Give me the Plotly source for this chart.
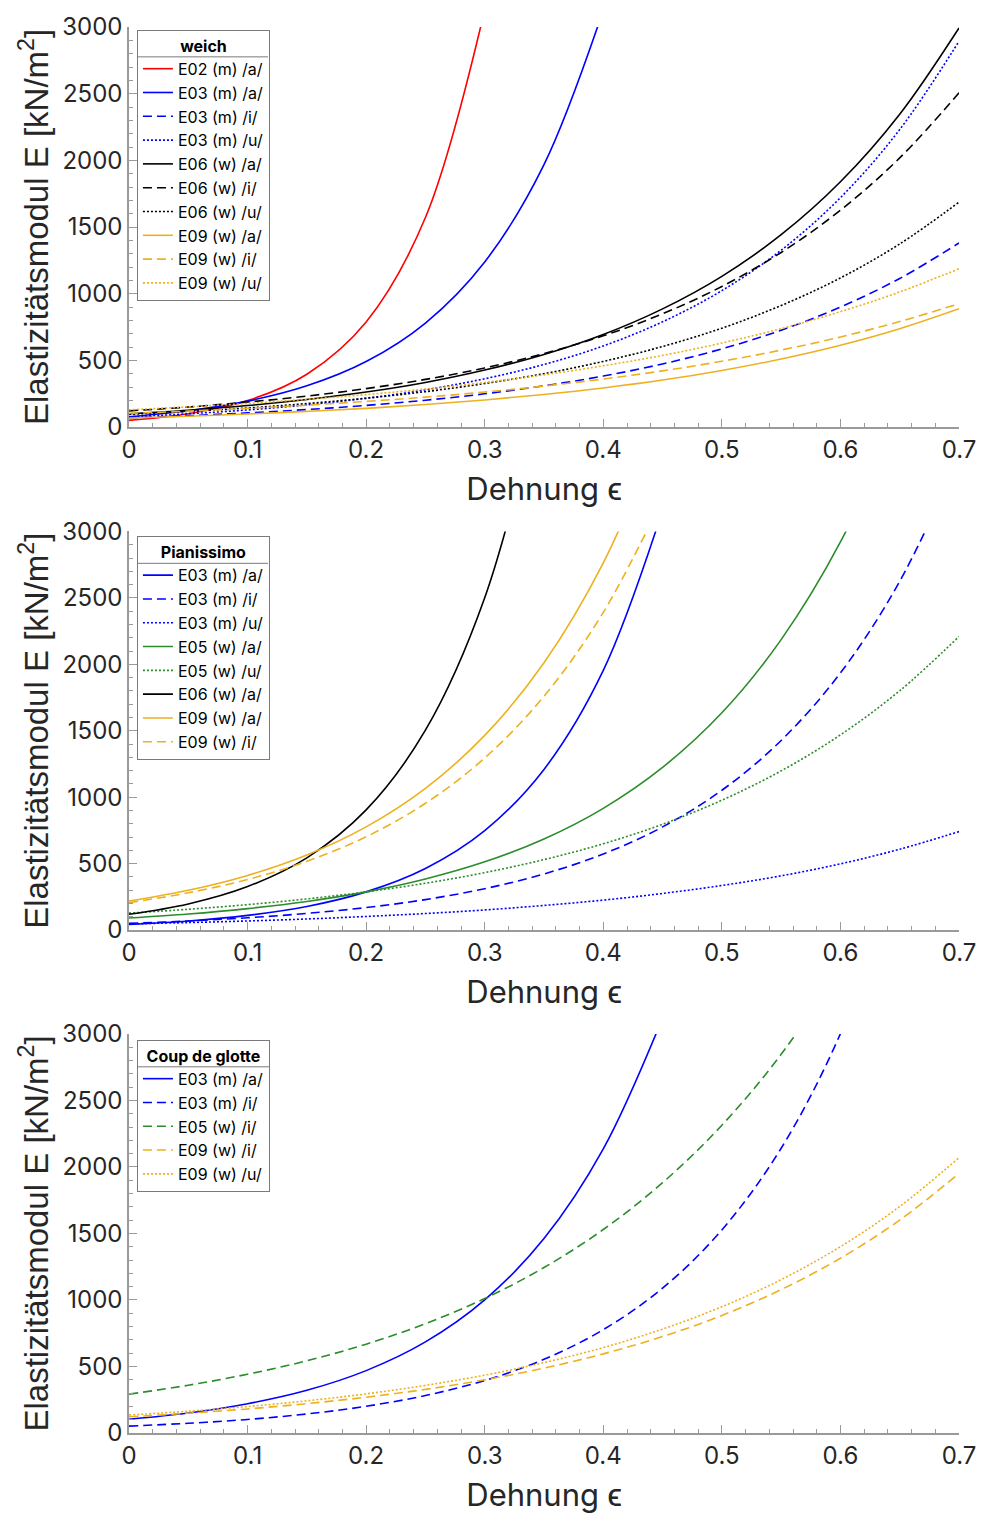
import plotly.graph_objects as go

# Strain grid (Dehnung)
EPS = [0.0, 0.05, 0.1, 0.15, 0.2, 0.25, 0.3, 0.35, 0.4, 0.45, 0.5, 0.55, 0.6, 0.65, 0.7]

# ---- Panel 1: weich ----
weich_E02_m_a = [50, 100, 198, 396, 788, 1571, 3130]
weich_E03_m_a = [77, 122, 194, 309, 491, 780, 1238, 1968, 3126]
weich_E03_m_i = [69, 85, 106, 131, 162, 201, 249, 309, 382, 473, 586, 726, 900, 1114, 1380]
weich_E03_m_u = [76, 99, 128, 166, 215, 279, 362, 469, 608, 789, 1023, 1326, 1720, 2231, 2893]
weich_E06_w_a = [99, 126, 161, 206, 262, 334, 427, 544, 694, 886, 1130, 1442, 1839, 2346, 2993]
weich_E06_w_i = [121, 150, 187, 232, 288, 357, 443, 551, 684, 849, 1054, 1309, 1626, 2018, 2506]
weich_E06_w_u = [95, 117, 143, 176, 216, 265, 326, 400, 492, 604, 741, 911, 1118, 1373, 1686]
weich_E09_w_a = [67, 81, 97, 117, 140, 169, 203, 244, 293, 352, 424, 510, 613, 737, 887]
weich_E09_w_i = [102, 119, 140, 164, 192, 224, 262, 307, 360, 421, 493, 577, 675, 791, 925]
weich_E09_w_u = [129, 151, 177, 208, 243, 285, 334, 391, 459, 537, 630, 738, 865, 1013, 1187]

# ---- Panel 2: Pianissimo ----
pian_E03_m_a = [42, 68, 110, 177, 287, 463, 748, 1209, 1954, 3159]
pian_E03_m_i = [50, 68, 92, 125, 169, 229, 311, 422, 572, 776, 1052, 1427, 1935, 2625, 3560]
pian_E03_m_u = [46, 56, 68, 83, 102, 124, 151, 185, 225, 275, 335, 408, 498, 608, 741]
pian_E05_w_a = [90, 120, 161, 215, 287, 384, 513, 685, 916, 1224, 1635, 2186, 2921, 3903]
pian_E05_w_u = [127, 156, 191, 234, 287, 352, 432, 530, 649, 796, 977, 1198, 1469, 1801, 2209]
pian_E06_w_a = [118, 196, 327, 543, 904, 1504, 2501, 4161]
pian_E09_w_a = [218, 299, 411, 565, 776, 1066, 1465, 2012, 2764, 3797]
pian_E09_w_i = [206, 280, 380, 517, 702, 954, 1295, 1760, 2391, 3248]

# ---- Panel 3: Coup de glotte ----
coup_E03_m_a = [103, 150, 220, 321, 469, 685, 1001, 1462, 2136, 3120]
coup_E03_m_i = [52, 73, 102, 143, 201, 282, 395, 554, 777, 1089, 1527, 2141, 3002, 4208]
coup_E05_w_i = [292, 359, 442, 543, 668, 822, 1011, 1244, 1530, 1882, 2314, 2847, 3501]
coup_E09_w_i = [122, 149, 181, 221, 269, 328, 400, 488, 595, 725, 884, 1078, 1314, 1601, 1952]
coup_E09_w_u = [135, 164, 199, 242, 294, 358, 435, 529, 642, 781, 949, 1153, 1401, 1703, 2070]

X_TICKS = [0, 0.1, 0.2, 0.3, 0.4, 0.5, 0.6, 0.7]
Y_TICKS = [0, 500, 1000, 1500, 2000, 2500, 3000]
PANEL_TITLES = ["weich", "Pianissimo", "Coup de glotte"]

RED = "#FF0000"
BLUE = "#0000FF"
BLACK = "#000000"
ORANGE = "#EDB120"
GREEN = "#2A8C2A"

DASH = {"solid": "solid", "dash": "9px,5px", "dot": "2px,2px"}

series = [
    (1, "E02 (m) /a/", weich_E02_m_a, RED, "solid"),
    (1, "E03 (m) /a/", weich_E03_m_a, BLUE, "solid"),
    (1, "E03 (m) /i/", weich_E03_m_i, BLUE, "dash"),
    (1, "E03 (m) /u/", weich_E03_m_u, BLUE, "dot"),
    (1, "E06 (w) /a/", weich_E06_w_a, BLACK, "solid"),
    (1, "E06 (w) /i/", weich_E06_w_i, BLACK, "dash"),
    (1, "E06 (w) /u/", weich_E06_w_u, BLACK, "dot"),
    (1, "E09 (w) /a/", weich_E09_w_a, ORANGE, "solid"),
    (1, "E09 (w) /i/", weich_E09_w_i, ORANGE, "dash"),
    (1, "E09 (w) /u/", weich_E09_w_u, ORANGE, "dot"),
    (2, "E03 (m) /a/", pian_E03_m_a, BLUE, "solid"),
    (2, "E03 (m) /i/", pian_E03_m_i, BLUE, "dash"),
    (2, "E03 (m) /u/", pian_E03_m_u, BLUE, "dot"),
    (2, "E05 (w) /a/", pian_E05_w_a, GREEN, "solid"),
    (2, "E05 (w) /u/", pian_E05_w_u, GREEN, "dot"),
    (2, "E06 (w) /a/", pian_E06_w_a, BLACK, "solid"),
    (2, "E09 (w) /a/", pian_E09_w_a, ORANGE, "solid"),
    (2, "E09 (w) /i/", pian_E09_w_i, ORANGE, "dash"),
    (3, "E03 (m) /a/", coup_E03_m_a, BLUE, "solid"),
    (3, "E03 (m) /i/", coup_E03_m_i, BLUE, "dash"),
    (3, "E05 (w) /i/", coup_E05_w_i, GREEN, "dash"),
    (3, "E09 (w) /i/", coup_E09_w_i, ORANGE, "dash"),
    (3, "E09 (w) /u/", coup_E09_w_u, ORANGE, "dot"),
]

FONT = "Inter, Liberation Sans, Arial, sans-serif"
YFONT = "Liberation Sans, Arial, sans-serif"
TXT = "#262626"
AXC = "#9a9a9a"
LEGC = "#7a7a7a"

W, H = 988, 1519
ML, MR, MT, MB = 129, 23, 21, 85
PH = H - MT - MB

def fy(py):
    return 1 - (py - MT) / PH

def fx(px):
    return (px - ML) / (W - ML - MR)

domains = [(fy(423), fy(21)), (fy(928.5), fy(528)), (fy(1434), fy(1033))]
legend_req_tops = [24, 533, 1039]
legend_heights = [270, 222, 149]
legend_rights = [269, 269, 270]
sep_offset = 27

fig = go.Figure()
for panel, name, vals, color, dash in series:
    suffix = "" if panel == 1 else str(panel)
    fig.add_trace(go.Scatter(
        x=EPS[:len(vals)], y=vals, name=name, mode="lines",
        line=dict(color=color, dash=DASH[dash], width=1.6, shape="spline", smoothing=1.0),
        xaxis="x" + suffix, yaxis="y" + suffix,
        legend="legend" + suffix,
    ))

layout = dict(
    width=W, height=H,
    margin=dict(l=ML, r=MR, t=MT, b=MB),
    paper_bgcolor="white", plot_bgcolor="white",
    font=dict(family=FONT, color=TXT),
    showlegend=True,
)

shapes = []
for i in range(3):
    suffix = "" if i == 0 else str(i + 1)
    xa = dict(
        domain=[0, 1], range=[0, 0.7], anchor="y" + suffix,
        tickvals=X_TICKS, ticks="inside", ticklen=8, tickwidth=1, tickcolor=AXC,
        showline=True, linecolor=AXC, linewidth=1.5, showgrid=False, zeroline=False,
        minor=dict(ticks="inside", dtick=0.02, ticklen=4, tickcolor=AXC),
        tickfont=dict(size=24, color=TXT, family=FONT),
        title=dict(text="Dehnung ϵ", font=dict(size=31, color=TXT, family=FONT), standoff=16),
    )
    ya = dict(
        domain=list(domains[i]), range=[0, 3000], anchor="x" + suffix,
        tickvals=Y_TICKS, ticks="inside", ticklen=8, tickwidth=1, tickcolor=AXC,
        showline=True, linecolor=AXC, linewidth=1.5, showgrid=False, zeroline=False,
        minor=dict(ticks="inside", dtick=100, ticklen=4, tickcolor=AXC),
        tickfont=dict(size=24, color=TXT, family=FONT),
        title=dict(text="Elastizitätsmodul E [kN/m<sup>2</sup>]",
                   font=dict(size=33, color=TXT, family=YFONT), standoff=4),
    )
    layout["xaxis" + suffix] = xa
    layout["yaxis" + suffix] = ya
    top = legend_req_tops[i]
    layout["legend" + suffix] = dict(
        x=fx(137), y=fy(top), xanchor="left", yanchor="top",
        bgcolor="rgba(255,255,255,0)", bordercolor=LEGC, borderwidth=1,
        font=dict(size=16, color=BLACK, family=FONT),
        title=dict(text="<b>" + PANEL_TITLES[i] + "</b>", side="top center",
                   font=dict(size=16, color=BLACK, family=FONT)),
        itemwidth=30, tracegroupgap=0,
    )
    l, r = 137, legend_rights[i]
    shapes.append(dict(
        type="rect", xref="paper", yref="paper", layer="above",
        x0=fx(l + 1), x1=fx(r - 1), y0=fy(top + legend_heights[i] - 2), y1=fy(top + 2),
        fillcolor="white", line=dict(width=0),
    ))
    shapes.append(dict(
        type="line", xref="paper", yref="paper", layer="above",
        x0=fx(l), x1=fx(r), y0=fy(top + sep_offset), y1=fy(top + sep_offset),
        line=dict(color=LEGC, width=1),
    ))

layout["shapes"] = shapes
fig.update_layout(**layout)
fig.write_html("out.html")
